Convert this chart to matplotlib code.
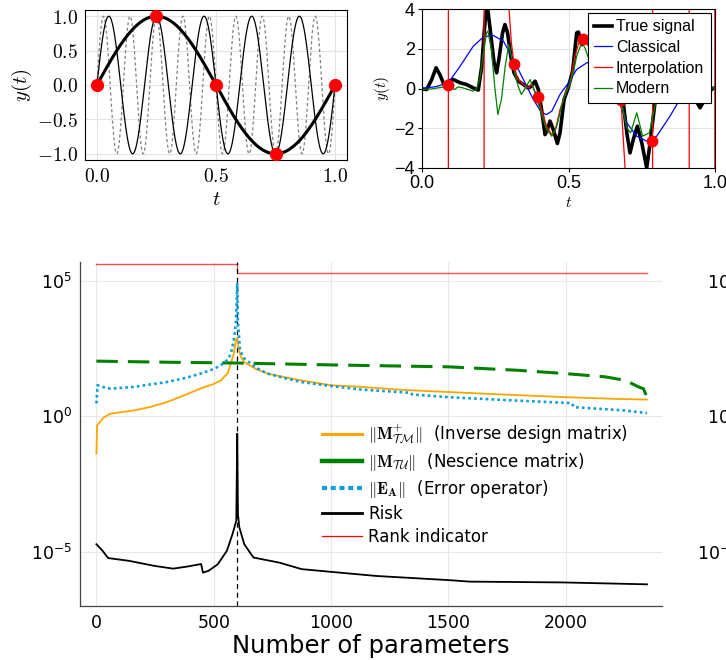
import matplotlib
matplotlib.use("Agg")
import matplotlib.pyplot as plt
import numpy as np
from matplotlib.lines import Line2D
from matplotlib.ticker import FuncFormatter, FixedLocator, NullLocator

plt.rcParams['mathtext.fontset'] = 'cm'

# ---------------- top left: sines that agree on the samples
sine_freqs = [1, 5, 9]          # thick black, thin black, dashed grey
sample_t = [0.0, 0.25, 0.5, 0.75, 1.0]
sample_y = [0.0, 1.0, 0.0, -1.0, 0.0]

# ---------------- top right: signal fits
true_t = [0.000, 0.016, 0.033, 0.048, 0.061, 0.075, 0.090, 0.107, 0.130, 0.152, 0.175, 0.192,
          0.204, 0.212, 0.218, 0.224, 0.234, 0.246, 0.255, 0.264, 0.275, 0.283, 0.292, 0.303,
          0.314, 0.329, 0.346, 0.363, 0.374, 0.386, 0.397, 0.408, 0.420, 0.428, 0.437, 0.448,
          0.462, 0.471, 0.485, 0.499, 0.514, 0.528, 0.534, 0.545, 0.556, 0.571, 0.585, 0.598,
          0.630, 0.664, 0.687, 0.699, 0.710, 0.721, 0.735, 0.750, 0.767, 0.780, 0.795, 0.812,
          0.835, 0.869, 0.903, 0.926, 0.949, 0.972, 0.989, 1.000]
true_y = [-0.02, -0.05, 0.45, 1.04, 0.70, 0.20, 0.37, 0.45, 0.29, 0.20, 0.03, -0.08,
          1.12, 2.80, 3.81, 4.06, 2.80, 1.29, 0.79, 1.63, 2.80, 3.22, 2.80, 1.63,
          0.79, 0.37, 0.20, 0.03, 0.12, 0.37, -0.05, -1.06, -2.32, -2.06, -1.64, -2.06,
          -2.77, -2.23, -0.55, 0.03, 0.87, 2.80, 2.84, 2.21, 2.38, 2.30, 1.12, 0.12,
          -0.55, -0.39, -0.72, -2.23, -3.24, -2.57, -1.90, -2.73, -3.99, -2.57, -0.72, 1.12,
          1.96, 1.46, 0.45, -0.39, -0.97, -0.39, -0.02, 0.03]

classical_t = [0.000, 0.050, 0.090, 0.130, 0.175, 0.210, 0.243, 0.278, 0.312, 0.346, 0.380,
               0.408, 0.425, 0.443, 0.471, 0.500, 0.528, 0.562, 0.579, 0.598, 0.640, 0.676,
               0.699, 0.733, 0.767, 0.801, 0.846, 0.880, 0.920, 0.960, 1.000]
classical_y = [0.00, 0.10, 0.29, 1.12, 2.13, 2.60, 2.67, 2.38, 1.46, 0.45, -0.55,
               -1.22, -1.31, -1.14, -0.30, 0.29, 0.96, 1.29, 1.38, 1.12, 0.10, -0.80,
               -1.73, -2.40, -2.65, -2.40, -1.40, -0.55, 0.00, 0.20, 0.03]

interp_t = [0.000, 0.001, 0.089, 0.091, 0.211, 0.213, 0.295, 0.297, 0.305, 0.314, 0.325,
            0.346, 0.363, 0.374, 0.395, 0.408, 0.425, 0.443, 0.454, 0.471, 0.494, 0.505,
            0.522, 0.539, 0.551, 0.568, 0.579, 0.590, 0.598, 0.620, 0.650, 0.679, 0.693,
            0.700, 0.786, 0.788, 0.911, 0.913, 0.999, 1.000]
interp_y = [-1000, 1000, 1000, -1000, -1000, 1000, 6.0, 4.0, 2.3, 1.24, 0.5,
            0.2, 0.03, 0.2, -0.44, -1.06, -1.9, -2.32, -2.15, -1.06, -0.05, 0.2,
            1.63, 2.47, 2.47, 2.13, 1.46, 0.62, 0.45, 0.3, -0.1, -0.6, -4.0,
            -1000, -1000, 1000, 1000, -1000, -1000, 1000]

modern_t = [0.000, 0.032, 0.077, 0.100, 0.111, 0.123, 0.140, 0.157, 0.174, 0.185, 0.197,
            0.208, 0.220, 0.225, 0.237, 0.248, 0.259, 0.271, 0.284, 0.296, 0.305, 0.316,
            0.328, 0.339, 0.350, 0.369, 0.386, 0.403, 0.425, 0.443, 0.460, 0.482, 0.499,
            0.516, 0.528, 0.545, 0.556, 0.568, 0.579, 0.596, 0.642, 0.681, 0.699, 0.712,
            0.733, 0.753, 0.776, 0.795, 0.812, 0.869, 0.926, 1.000]
modern_y = [-0.05, -0.02, 0.08, 0.03, -0.05, 0.08, 0.03, -0.05, -0.13, -0.05, 0.45,
            1.63, 2.80, 2.89, 1.96, 0.12, -1.31, -0.55, 1.12, 2.21, 1.63, 0.79,
            0.12, -0.30, -0.05, 0.45, -0.22, -1.06, -2.06, -2.40, -1.90, -0.55, 0.03,
            0.79, 1.63, 2.30, 2.05, 1.54, 1.12, 0.70, -0.05, -0.72, -1.98, -2.23,
            -1.22, -2.40, -2.23, -0.89, 0.29, 1.12, -0.05, 0.03]

obs_t = [0.090, 0.314, 0.395, 0.551, 0.598, 0.679, 0.784]
obs_y = [0.20, 1.24, -0.44, 2.47, 0.45, -0.60, -2.65]

# ---------------- bottom: norms vs number of parameters (log10 values)
inv_x = [0, 3, 10, 30, 60, 100, 160, 230, 302, 380, 444, 500, 530, 560, 573, 585, 594, 600,
         606, 615, 630, 680, 729, 800, 872, 1000, 1128, 1300, 1499, 1700, 1997, 2200, 2346]
inv_log = [-1.37, -0.33, -0.26, -0.05, 0.10, 0.15, 0.22, 0.35, 0.53, 0.80, 1.03, 1.20, 1.33,
           1.60, 1.96, 2.30, 2.80, 2.90, 2.50, 2.20, 2.00, 1.75, 1.58, 1.45, 1.33, 1.15, 1.09,
           0.98, 0.90, 0.82, 0.71, 0.65, 0.62]

nesc_x = [0, 300, 600, 1000, 1499, 1800, 1997, 2168, 2254, 2310, 2331, 2346]
nesc_log = [2.04, 2.00, 1.97, 1.90, 1.83, 1.70, 1.58, 1.46, 1.33, 1.09, 1.02, 0.71]

err_x = [0, 5, 20, 60, 160, 230, 302, 380, 444, 500, 530, 560, 573, 585, 594, 598, 600, 603,
         612, 630, 680, 729, 800, 872, 1000, 1128, 1340, 1345, 1499, 1750, 2025, 2035, 2250, 2346]
err_log = [0.48, 1.15, 1.10, 1.02, 1.09, 1.18, 1.27, 1.42, 1.58, 1.75, 1.89, 2.10, 2.32, 2.80,
           3.44, 4.30, 4.93, 3.50, 2.44, 2.14, 1.80, 1.58, 1.42, 1.27, 1.12, 0.99, 0.87, 0.81,
           0.71, 0.60, 0.49, 0.34, 0.22, 0.12]

risk_x = [0, 26, 50, 137, 248, 327, 390, 446, 454, 478, 517, 556, 580, 596, 600, 603, 609,
          630, 669, 780, 875, 1001, 1191, 1511, 1590, 1989, 2346]
risk_log = [-4.72, -4.96, -5.23, -5.33, -5.52, -5.62, -5.54, -5.45, -5.77, -5.70, -5.46, -4.96,
            -4.34, -3.85, -0.64, -3.60, -4.10, -4.72, -5.21, -5.40, -5.64, -5.74, -5.89, -6.05,
            -6.10, -6.13, -6.20]

rank_x = [0, 600, 2346]
rank_val = [4.3e5, 2.0e5, 2.0e5]
interp_threshold = 600

fig = plt.figure(figsize=(7.26, 6.6), dpi=100)
W, H = 726, 660

def box(l, t, r, b):
    return [l / W, 1 - b / H, (r - l) / W, (b - t) / H]

# ===== top left
ax1 = fig.add_axes(box(85, 10, 347, 160))
tt = np.linspace(0, 1, 800)
ax1.plot(tt, np.sin(2 * np.pi * sine_freqs[2] * tt), color='#808080', lw=0.9, dashes=(2.5, 2))
ax1.plot(tt, np.sin(2 * np.pi * sine_freqs[1] * tt), color='black', lw=0.9)
ax1.plot(tt, np.sin(2 * np.pi * sine_freqs[0] * tt), color='black', lw=2.2)
ax1.plot(sample_t, sample_y, 'o', color='red', ms=8.5, zorder=5, clip_on=False)
ax1.set_xlim(-0.05, 1.05)
ax1.set_ylim(-1.09, 1.09)
ax1.set_xticks([0, 0.5, 1.0])
ax1.set_yticks([-1.0, -0.5, 0.0, 0.5, 1.0])
fmt = FuncFormatter(lambda v, p: f"${v:.1f}$")
ax1.xaxis.set_major_formatter(fmt)
ax1.yaxis.set_major_formatter(fmt)
ax1.tick_params(length=0, labelsize=14, pad=5)
ax1.grid(True, color='#e3e3e3', lw=0.8)
ax1.set_axisbelow(True)
ax1.set_xlabel("$t$", fontsize=15, labelpad=2)
ax1.set_ylabel("$y(t)$", fontsize=15, labelpad=2)
for s in ax1.spines.values():
    s.set_linewidth(0.8)

# ===== top right
ax2 = fig.add_axes(box(422, 9, 715, 168))
ax2.plot(true_t, true_y, color='black', lw=2.6, label='True signal', solid_joinstyle='round')
ax2.plot(classical_t, classical_y, color='blue', lw=0.9, label='Classical', solid_joinstyle='round')
ax2.plot(interp_t, interp_y, color='red', lw=0.9, label='Interpolation', solid_joinstyle='round')
ax2.plot(modern_t, modern_y, color='green', lw=0.9, label='Modern', solid_joinstyle='round')
ax2.plot(obs_t, obs_y, 'o', color='red', ms=7.5, zorder=4)
ax2.set_xlim(0, 1)
ax2.set_ylim(-4, 4)
ax2.set_xticks([0, 0.5, 1.0])
ax2.set_yticks([-4, -2, 0, 2, 4])
ax2.xaxis.set_major_formatter(FuncFormatter(lambda v, p: f"{v:.1f}"))
ax2.yaxis.set_major_formatter(FuncFormatter(lambda v, p: f"{v:.0f}".replace('-', '\u2212')))
ax2.tick_params(length=3, labelsize=13, pad=2)
for lab in ax2.get_xticklabels() + ax2.get_yticklabels():
    lab.set_family('Liberation Sans')
ax2.grid(True, color='#e3e3e3', lw=0.8)
ax2.set_axisbelow(True)
ax2.set_xlabel("$t$", fontsize=11, labelpad=2)
ax2.set_ylabel("$y(t)$", fontsize=11, labelpad=2)
for s in ax2.spines.values():
    s.set_linewidth(0.8)
leg2 = ax2.legend(loc='upper right', bbox_to_anchor=(0.985, 0.975),
                  prop={'family': 'Liberation Sans', 'size': 11.5},
                  handlelength=1.1, handletextpad=0.25, borderpad=0.4, labelspacing=0.35,
                  fancybox=False, framealpha=1, edgecolor='black', borderaxespad=0)
leg2.get_frame().set_linewidth(0.8)

# ===== bottom
ax3 = fig.add_axes(box(80, 262, 662, 606))
ax3.plot(rank_x, rank_val, drawstyle='steps-post', color='red', lw=1.0, alpha=0.7)
ax3.axvline(interp_threshold, color='black', lw=0.9, dashes=(4, 3))
ax3.plot(inv_x, 10 ** np.array(inv_log), color='orange', lw=1.3)
ax3.plot(nesc_x, 10 ** np.array(nesc_log), color='green', lw=2.2, dashes=(7, 3.3))
ax3.plot(err_x, 10 ** np.array(err_log), color='#0a9fd8', lw=1.9, dashes=(1.0, 1.2))
ax3.plot(risk_x, 10 ** np.array(risk_log), color='black', lw=1.3)
ax3.set_yscale('log')
ax3.set_xlim(-70, 2410)
ax3.set_ylim(1e-7, 10 ** 5.7)
ax3.yaxis.set_major_locator(FixedLocator([1e-5, 1e0, 1e5]))
ax3.yaxis.set_minor_locator(NullLocator())
ax3.set_xticks([0, 500, 1000, 1500, 2000])
ax3.tick_params(length=0, labelsize=12.5, pad=6)
ax3.grid(True, color='#e8e8e8', lw=0.8)
ax3.set_axisbelow(True)
for side in ['top', 'right']:
    ax3.spines[side].set_visible(False)
for side in ['left', 'bottom']:
    ax3.spines[side].set_color('#444444')
    ax3.spines[side].set_linewidth(0.9)
ax3.set_xlabel("Number of parameters", fontsize=17.5, labelpad=1)

handles = [
    Line2D([], [], color='orange', lw=2.2),
    Line2D([], [], color='green', lw=3.2),
    Line2D([], [], color='#0a9fd8', lw=3.0, dashes=(1.2, 0.9)),
    Line2D([], [], color='black', lw=2.0),
    Line2D([], [], color='red', lw=0.9),
]
labels = [
    r"$\Vert\mathbf{M}^{+}_{\mathcal{T}\mathcal{M}}\Vert$  (Inverse design matrix)",
    r"$\Vert\mathbf{M}_{\mathcal{T}\mathcal{U}}\Vert$  (Nescience matrix)",
    r"$\Vert\mathbf{E}_{\mathbf{A}}\Vert$  (Error operator)",
    "Risk",
    "Rank indicator",
]
ax3.legend(handles, labels, loc='upper left', bbox_to_anchor=(0.405, 0.555), frameon=False,
           fontsize=12, handlelength=2.4, handletextpad=0.35, labelspacing=0.3,
           borderaxespad=0)

# partially visible neighbouring panel on the right edge
ax4 = fig.add_axes([746 / W, 1 - 606 / H, 0.5, 344 / H])
ax4.set_yscale('log')
ax4.set_ylim(1e-7, 10 ** 5.7)
ax4.yaxis.set_major_locator(FixedLocator([1e-5, 1e0, 1e5]))
ax4.yaxis.set_minor_locator(NullLocator())
ax4.set_xticks([])
ax4.tick_params(length=0, labelsize=12.5, pad=6)
for s in ax4.spines.values():
    s.set_visible(False)

fig.savefig("out.png", dpi=100)
